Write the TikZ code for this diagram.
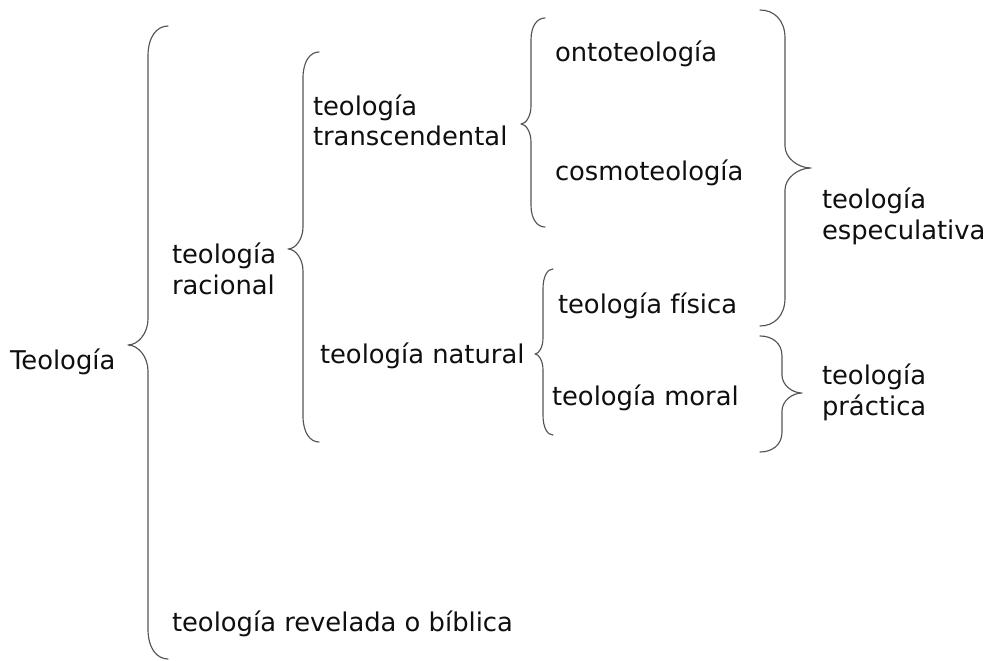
\documentclass[tikz,border=0pt]{standalone}
\usepackage{fontspec}
\setmainfont{DejaVu Sans}
\newcommand{\brc}[8]{% #1 xe, #2 xv, #3 xc, #4 yt, #5 yc, #6 yb, #7 end height, #8 cusp height
\draw[bracestyle] (#1,#4) .. controls ({#2+0.45*(#1-#2)},#4) and (#2,{#4+0.35*#7}) .. (#2,{#4+#7})
 -- (#2,{#5-#8}) .. controls (#2,{#5-0.45*#8}) and ({#3+0.5*(#2-#3)},#5) .. (#3,#5)
 .. controls ({#3+0.5*(#2-#3)},#5) and (#2,{#5+0.45*#8}) .. (#2,{#5+#8})
 -- (#2,{#6-#7}) .. controls (#2,{#6-0.35*#7}) and ({#2+0.45*(#1-#2)},#6) .. (#1,#6);}
\newcommand{\twol}[2]{\begin{tabular}[t]{@{}l@{}}#1\\#2\end{tabular}}
\begin{document}
\begin{tikzpicture}[x=1pt,y=-1pt,
  bracestyle/.style={draw={rgb,255:red,85;green,85;blue,85},line width=1.15pt,line cap=round,line join=round},
  lbl/.style={inner sep=0pt,outer sep=0pt,anchor=base west,text={rgb,255:red,15;green,15;blue,15},
    font=\fontsize{25.8}{31}\selectfont}]
\useasboundingbox[fill=white] (0,0) rectangle (989,661);
% labels
\node[lbl] (teo)   at (10,369)  {Teología};
\node[lbl] (rac)   at (172,263) {\twol{teología}{racional}};
\node[lbl] (trans) at (313,115) {\twol{teología}{transcendental}};
\node[lbl] (nat)   at (320,363) {teología natural};
\node[lbl] (rev)   at (172,631) {teología revelada o bíblica};
\node[lbl] (onto)  at (555,62)  {ontoteología};
\node[lbl] (cosmo) at (555,180) {cosmoteología};
\node[lbl] (fis)   at (558,313) {teología física};
\node[lbl] (moral) at (552,405) {teología moral};
\node[lbl] (espec) at (822,208) {\twol{teología}{especulativa}};
\node[lbl] (prac)  at (822,384) {\twol{teología}{práctica}};
% braces
\brc{168}{148}{128}{26}{345}{659}{30}{26}
\brc{319}{303}{288}{52}{249}{442}{26}{22}
\brc{545}{531}{521}{18}{124}{227}{22}{18}
\brc{553}{543}{535}{269}{354}{435}{20}{16}
\brc{760}{785}{811}{10}{168}{326}{28}{22}
\brc{760}{782}{802}{336}{393}{452}{20}{18}
\end{tikzpicture}
\end{document}
